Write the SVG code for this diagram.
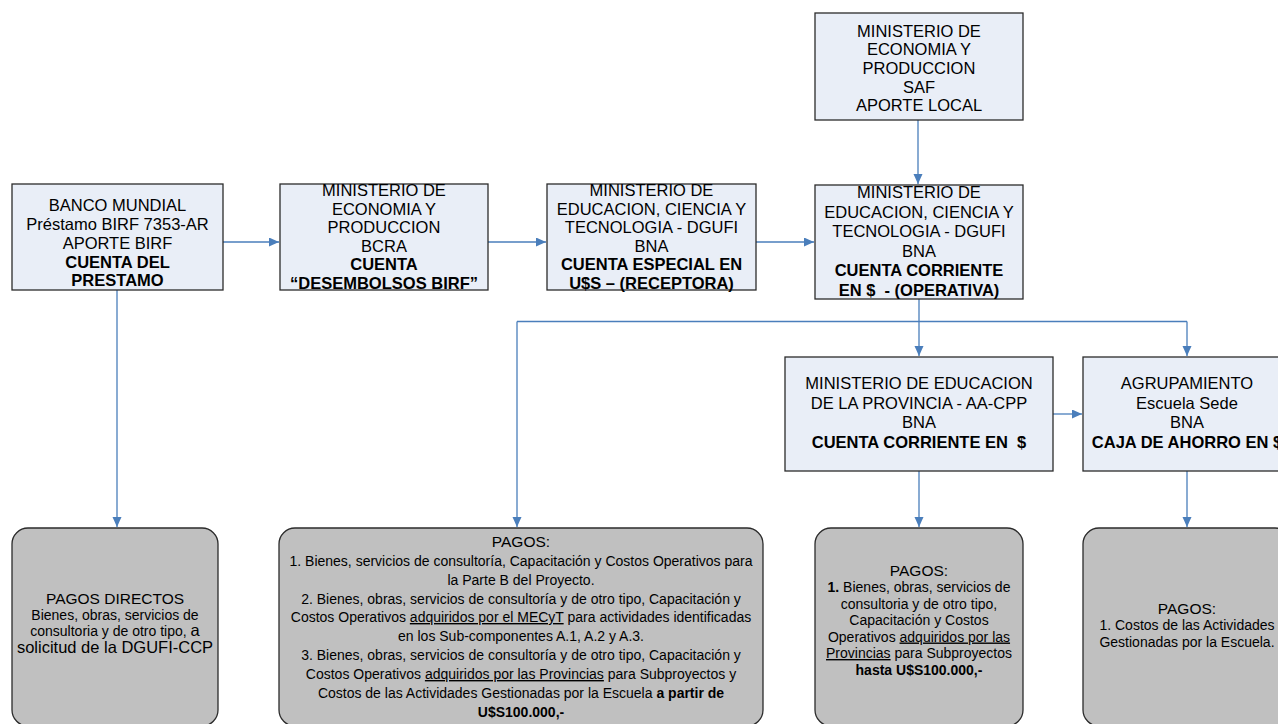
<svg xmlns="http://www.w3.org/2000/svg" width="1278" height="724" viewBox="0 0 1278 724">
<style>
.box{fill:#e9eef7;stroke:#2b2b2b;stroke-width:1.3}
.pay{fill:#c0c0c0;stroke:#2b2b2b;stroke-width:1.3}
.t{font-family:"Liberation Sans",Arial,sans-serif;font-size:16.5px;fill:#000;text-anchor:middle}
.s{font-family:"Liberation Sans",Arial,sans-serif;font-size:14px;fill:#000;text-anchor:middle}
.b{font-weight:bold}
.u{text-decoration:underline}
.c{fill:none;stroke:#4a7ebb;stroke-width:1.3}
</style>
<defs>
<marker id="ah" markerUnits="userSpaceOnUse" markerWidth="11" markerHeight="10" refX="10" refY="4.5" orient="auto">
<path d="M0,0 L10,4.5 L0,9 z" fill="#4a7ebb"/>
</marker>
</defs>
<g id="connectors">
<path class="c" d="M918,120 V184" marker-end="url(#ah)"/>
<path class="c" d="M223,242 H279" marker-end="url(#ah)"/>
<path class="c" d="M488,242 H546" marker-end="url(#ah)"/>
<path class="c" d="M756,242 H814" marker-end="url(#ah)"/>
<path class="c" d="M117,290 V527" marker-end="url(#ah)"/>
<path class="c" d="M919,299 V356" marker-end="url(#ah)"/>
<path class="c" d="M517,321.5 H1187"/>
<path class="c" d="M517,321.5 V527" marker-end="url(#ah)"/>
<path class="c" d="M1187,321.5 V356" marker-end="url(#ah)"/>
<path class="c" d="M1053,414 H1082" marker-end="url(#ah)"/>
<path class="c" d="M919,471 V527" marker-end="url(#ah)"/>
<path class="c" d="M1187,471 V527" marker-end="url(#ah)"/>
</g>
<g id="mecon-saf">
<rect class="box" x="815" y="13" width="208" height="107"/>
<text class="t" x="919" y="36.5">MINISTERIO DE</text>
<text class="t" x="919" y="55.2">ECONOMIA Y</text>
<text class="t" x="919" y="73.9">PRODUCCION</text>
<text class="t" x="919" y="92.6">SAF</text>
<text class="t" x="919" y="111.3">APORTE LOCAL</text>
</g>
<g id="banco-mundial">
<rect class="box" x="12" y="184" width="211" height="106"/>
<text class="t" x="117.5" y="211">BANCO MUNDIAL</text>
<text class="t" x="117.5" y="229.5">Préstamo BIRF 7353-AR</text>
<text class="t" x="117.5" y="248.5">APORTE BIRF</text>
<text class="t b" x="117.5" y="267.5">CUENTA DEL</text>
<text class="t b" x="117.5" y="286">PRESTAMO</text>
</g>
<g id="mecon-bcra">
<rect class="box" x="280" y="184" width="208" height="106"/>
<text class="t" x="384" y="196">MINISTERIO DE</text>
<text class="t" x="384" y="214.5">ECONOMIA Y</text>
<text class="t" x="384" y="233">PRODUCCION</text>
<text class="t" x="384" y="251.5">BCRA</text>
<text class="t b" x="384" y="270">CUENTA</text>
<text class="t b" x="384" y="288.5">“DESEMBOLSOS BIRF”</text>
</g>
<g id="mecyt-receptora">
<rect class="box" x="547" y="184" width="209" height="106"/>
<text class="t" x="651.5" y="196">MINISTERIO DE</text>
<text class="t" x="651.5" y="214.5">EDUCACION, CIENCIA Y</text>
<text class="t" x="651.5" y="233">TECNOLOGIA - DGUFI</text>
<text class="t" x="651.5" y="251.5">BNA</text>
<text class="t b" x="651.5" y="270">CUENTA ESPECIAL EN</text>
<text class="t b" x="651.5" y="288.5">U$S – (RECEPTORA)</text>
</g>
<g id="mecyt-operativa">
<rect class="box" x="815" y="185" width="208" height="114"/>
<text class="t" x="919" y="198">MINISTERIO DE</text>
<text class="t" x="919" y="217.5">EDUCACION, CIENCIA Y</text>
<text class="t" x="919" y="237">TECNOLOGIA - DGUFI</text>
<text class="t" x="919" y="256.5">BNA</text>
<text class="t b" x="919" y="276">CUENTA CORRIENTE</text>
<text class="t b" x="919" y="295.5" xml:space="preserve">EN $  - (OPERATIVA)</text>
</g>
<g id="ministerio-provincia">
<rect class="box" x="785" y="357" width="268" height="114"/>
<text class="t" x="919" y="389">MINISTERIO DE EDUCACION</text>
<text class="t" x="919" y="408.5">DE LA PROVINCIA - AA-CPP</text>
<text class="t" x="919" y="428">BNA</text>
<text class="t b" x="919" y="447.5" xml:space="preserve">CUENTA CORRIENTE EN  $</text>
</g>
<g id="agrupamiento">
<rect class="box" x="1083" y="357" width="208" height="114"/>
<text class="t" x="1187" y="389">AGRUPAMIENTO</text>
<text class="t" x="1187" y="408.5">Escuela Sede</text>
<text class="t" x="1187" y="428">BNA</text>
<text class="t b" x="1187" y="447.5">CAJA DE AHORRO EN $</text>
</g>
<g id="pagos-directos">
<rect class="pay" x="12" y="528" width="206" height="198" rx="16" ry="16"/>
<text class="s" x="115" y="604" style="font-size:15.5px">PAGOS DIRECTOS</text>
<text class="s" x="115" y="620">Bienes, obras, servicios de</text>
<text class="s" x="115" y="636">consultoria y de otro tipo, <tspan style="font-size:16.5px">a</tspan></text>
<text class="s" x="115" y="653" style="font-size:16.5px">solicitud de la DGUFI-CCP</text>
</g>
<g id="pagos-mecyt">
<rect class="pay" x="279" y="528" width="484" height="198" rx="16" ry="16"/>
<text class="s" x="521" y="547" style="font-size:15.5px">PAGOS:</text>
<text class="s" x="521" y="566">1. Bienes, servicios de consultoría, Capacitación y Costos Operativos para</text>
<text class="s" x="521" y="585">la Parte B del Proyecto.</text>
<text class="s" x="521" y="604">2. Bienes, obras, servicios de consultoría y de otro tipo, Capacitación y</text>
<text class="s" x="521" y="622">Costos Operativos <tspan class="u">adquiridos por el MECyT</tspan> para actividades identificadas</text>
<text class="s" x="521" y="641">en los Sub-componentes A.1, A.2 y A.3.</text>
<text class="s" x="521" y="660">3. Bienes, obras, servicios de consultoría y de otro tipo, Capacitación y</text>
<text class="s" x="521" y="679">Costos Operativos <tspan class="u">adquiridos por las Provincias</tspan> para Subproyectos y</text>
<text class="s" x="521" y="698">Costos de las Actividades Gestionadas por la Escuela <tspan class="b">a partir de</tspan></text>
<text class="s b" x="521" y="717">U$S100.000,-</text>
</g>
<g id="pagos-provincia">
<rect class="pay" x="815" y="528" width="208" height="198" rx="16" ry="16"/>
<text class="s" x="919" y="576" style="font-size:15.5px">PAGOS:</text>
<text class="s" x="919" y="592"><tspan class="b">1.</tspan> Bienes, obras, servicios de</text>
<text class="s" x="919" y="608.5">consultoria y de otro tipo,</text>
<text class="s" x="919" y="625">Capacitación y Costos</text>
<text class="s" x="919" y="641.5">Operativos <tspan class="u">adquiridos por las</tspan></text>
<text class="s" x="919" y="658"><tspan class="u">Provincias</tspan> para Subproyectos</text>
<text class="s b" x="919" y="674.5">hasta U$S100.000,-</text>
</g>
<g id="pagos-escuela">
<rect class="pay" x="1083" y="528" width="208" height="198" rx="16" ry="16"/>
<text class="s" x="1187" y="614" style="font-size:15.5px">PAGOS:</text>
<text class="s" x="1187" y="630">1. Costos de las Actividades</text>
<text class="s" x="1187" y="646.5">Gestionadas por la Escuela.</text>
</g>
</svg>
